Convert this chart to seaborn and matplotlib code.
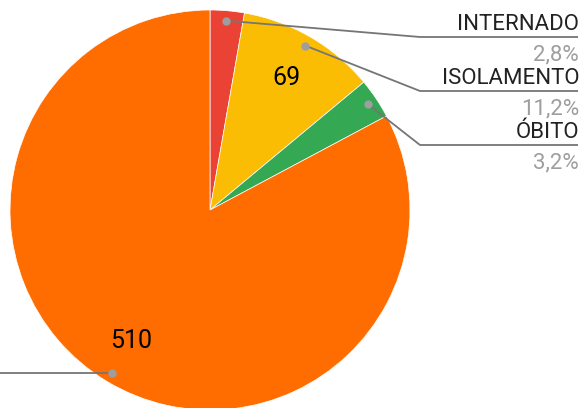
import matplotlib
matplotlib.use("Agg")
import matplotlib.pyplot as plt
import seaborn as sns
import numpy as np

categories = ["INTERNADO", "ISOLAMENTO", "ÓBITO", "OUTROS"]
values = [17, 69, 20, 510]
pct_labels = ["2,8%", "11,2%", "3,2%", ""]
colors = ["#ea4335", "#fbbc04", "#34a853", "#ff6d01"]
show_value = [False, True, False, True]

sns.set_style("white")
plt.rcParams["font.family"] = ["Roboto", "DejaVu Sans"]

W, H = 582, 408
fig = plt.figure(figsize=(W / 100, H / 100), dpi=100)
ax = fig.add_axes([0, 0, 1, 1])

cx, cy, R = 210, 210, 200
wedges, _ = ax.pie(values, colors=colors, startangle=-90, counterclock=True,
                   center=(cx, cy), radius=R, frame=True,
                   wedgeprops=dict(linewidth=0.5, edgecolor="white"))
ax.set_xlim(0, W)
ax.set_ylim(H, 0)
ax.set_aspect("equal")
ax.axis("off")

line_c = "#757575"
dot_c = "#9e9e9e"
right_x = 578
elbow_x = 420
line_ys = [37, 91, 145]

for i, w in enumerate(wedges):
    mid = np.deg2rad((w.theta1 + w.theta2) / 2)
    dx, dy = np.cos(mid), np.sin(mid)
    px, py = cx + 0.95 * R * dx, cy + 0.95 * R * dy
    if show_value[i]:
        ax.text(cx + 0.765 * R * dx, cy + 0.765 * R * dy, str(values[i]),
                ha="center", va="center", fontsize=18, color="#000000")
    if i < 3:
        ly = line_ys[i]
        ax.plot([px, elbow_x, right_x], [py, ly, ly], color=line_c, lw=1.3,
                solid_capstyle="butt", zorder=3)
        ax.text(right_x + 1, ly - 7, categories[i], ha="right", va="baseline",
                fontsize=16, color="#222222")
        ax.text(right_x + 1, ly + 23, pct_labels[i], ha="right", va="baseline",
                fontsize=16, color="#9e9e9e")
    else:
        ax.plot([px, -5], [py, py], color=line_c, lw=1.3, zorder=3)
    ax.plot([px], [py], "o", color=dot_c, markersize=6, zorder=4,
            markeredgewidth=0)

fig.savefig("out.png", dpi=100)
